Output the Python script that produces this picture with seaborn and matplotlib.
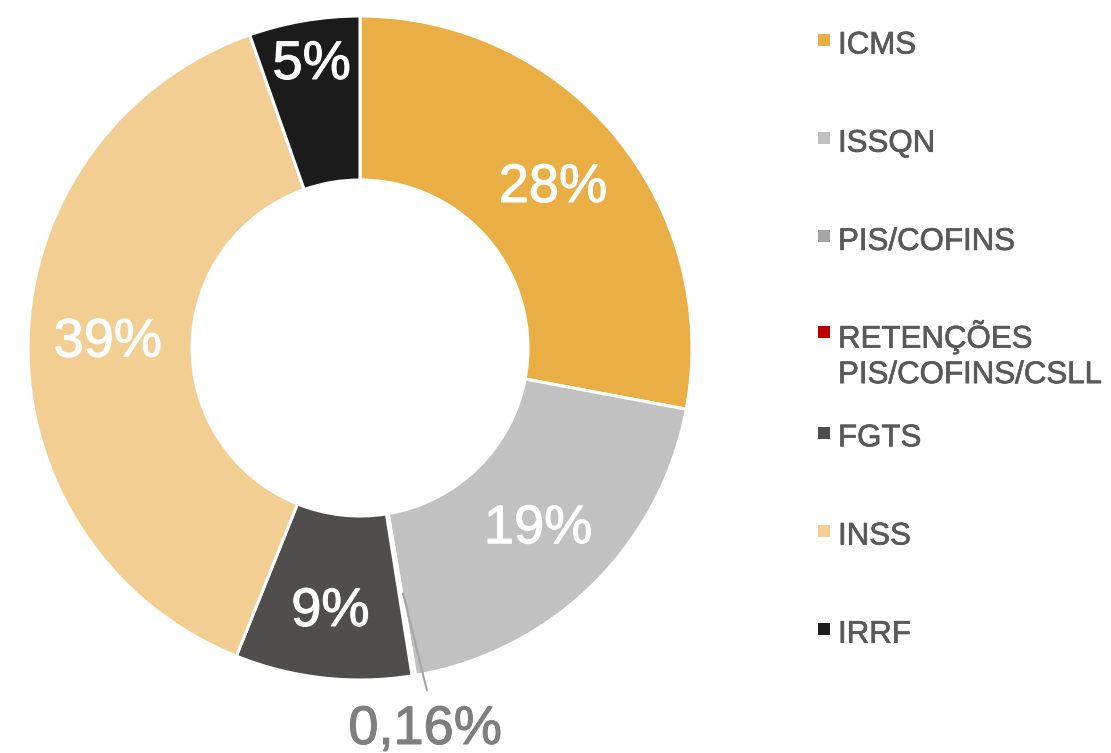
import numpy as np
import matplotlib
matplotlib.use("Agg")
import matplotlib.pyplot as plt
import matplotlib.patches as mpatches
import matplotlib.patheffects as pe
import seaborn as sns

categories = ["ICMS", "ISSQN", "PIS/COFINS", "RETENÇÕES\nPIS/COFINS/CSLL", "FGTS", "INSS", "IRRF"]
values = [28.0, 19.4, 0.16, 0.01, 8.6, 38.6, 5.4]
colors = ["#E9AF45", "#C1C1C1", "#A5A5A5", "#C00000", "#504E4C", "#F2CE92", "#1B1B1B"]

sns.set_theme(style="white")
plt.rcParams["font.family"] = ["Liberation Sans", "DejaVu Sans"]

W, H = 1111, 753
fig = plt.figure(figsize=(W / 100, H / 100), dpi=100)
fig.patch.set_facecolor("white")

# pie axes geometry (pixels)
cx, cy, R = 360, 348, 332
lim = 1.1
side = 2 * lim * R
ax = fig.add_axes([(cx - side / 2) / W, (H - cy - side / 2) / H, side / W, side / H])

wedges, _ = ax.pie(values, colors=colors, startangle=90, counterclock=False, radius=1.0,
                   wedgeprops=dict(width=0.494, edgecolor="white", linewidth=2.2))
ax.set_xlim(-lim, lim)
ax.set_ylim(-lim, lim)
ax.set_aspect("equal")
ax.axis("off")


def heavy(color, lw=0.8):
    return [pe.withStroke(linewidth=lw, foreground=color)]


total = sum(values)
label_r = [0.755, 0.765, None, None, 0.80, 0.76, 0.865]
for w, v, r in zip(wedges, values, label_r):
    if r is None:
        continue
    th = np.deg2rad((w.theta1 + w.theta2) / 2)
    ax.text(r * np.cos(th), r * np.sin(th), f"{v / total * 100:.0f}%", color="white",
            fontsize=39, ha="center", va="center", path_effects=heavy("white"))

# small-slice external label with leader line
w = wedges[2]
mid = (w.theta1 + w.theta2) / 2
t1 = np.deg2rad(mid + 0.6)
t2 = np.deg2rad(mid + 1.7)
ax.plot([0.75 * np.cos(t1), 1.05 * np.cos(t2)], [0.75 * np.sin(t1), 1.05 * np.sin(t2)],
        color="#A5A5A5", lw=1.5, clip_on=False, zorder=5)
t3 = np.deg2rad(mid + 0.3)
pct = values[2] / total * 100
ax.text(1.167 * np.cos(t3), 1.167 * np.sin(t3), f"{pct:.2f}%".replace(".", ","),
        color="#7F7F7F", fontsize=39, ha="center", va="center", clip_on=False,
        path_effects=heavy("#7F7F7F"))

# manual legend
row0, step, line_px = 42, 98.2, 38
mx, tx, ms = 824, 838, 12
for i, (cat, col) in enumerate(zip(categories, colors)):
    y = row0 + i * step
    if i == 3:
        y -= 3
    fig.patches.append(mpatches.Rectangle(((mx - ms / 2) / W, (H - y - ms / 2 + 2) / H), ms / W, ms / H,
                                          transform=fig.transFigure, facecolor=col, edgecolor="none"))
    for j, line in enumerate(cat.split("\n")):
        fig.text(tx / W, (H - (y + j * line_px)) / H, line, color="#595959", fontsize=22.5,
                 ha="left", va="center_baseline", path_effects=heavy("#595959", 0.5))

fig.savefig("out.png", dpi=100, facecolor="white")
